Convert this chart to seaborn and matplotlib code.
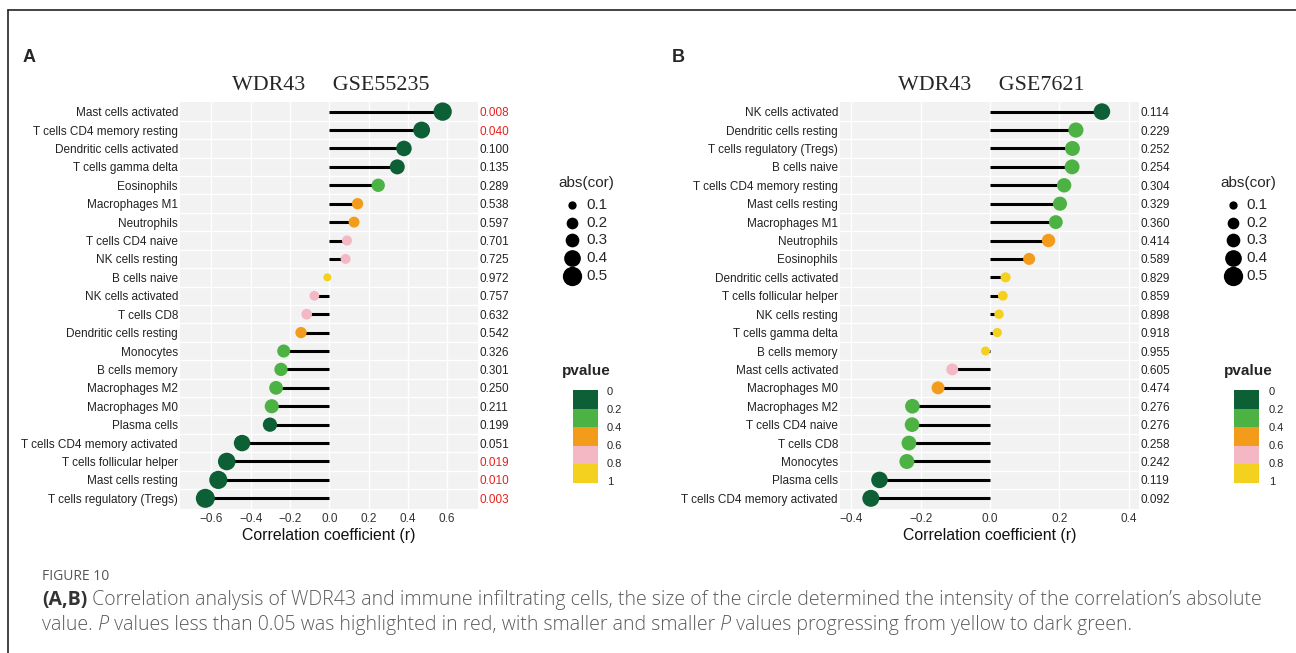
import numpy as np
import pandas as pd
import seaborn as sns
import matplotlib.pyplot as plt
from matplotlib.patches import Rectangle

W, H = 1296, 653

# panel A - GSE55235
cells_a = ['Mast cells activated', 'T cells CD4 memory resting', 'Dendritic cells activated',
           'T cells gamma delta', 'Eosinophils', 'Macrophages M1', 'Neutrophils',
           'T cells CD4 naive', 'NK cells resting', 'B cells naive', 'NK cells activated',
           'T cells CD8', 'Dendritic cells resting', 'Monocytes', 'B cells memory',
           'Macrophages M2', 'Macrophages M0', 'Plasma cells', 'T cells CD4 memory activated',
           'T cells follicular helper', 'Mast cells resting', 'T cells regulatory (Tregs)']
r_a = [0.577, 0.470, 0.380, 0.346, 0.249, 0.144, 0.126, 0.090, 0.083, -0.010, -0.076,
       -0.115, -0.144, -0.232, -0.246, -0.271, -0.293, -0.302, -0.444, -0.522, -0.565, -0.631]
p_a = [0.008, 0.040, 0.100, 0.135, 0.289, 0.538, 0.597, 0.701, 0.725, 0.972, 0.757,
       0.632, 0.542, 0.326, 0.301, 0.250, 0.211, 0.199, 0.051, 0.019, 0.010, 0.003]

# panel B - GSE7621
cells_b = ['NK cells activated', 'Dendritic cells resting', 'T cells regulatory (Tregs)',
           'B cells naive', 'T cells CD4 memory resting', 'Mast cells resting', 'Macrophages M1',
           'Neutrophils', 'Eosinophils', 'Dendritic cells activated', 'T cells follicular helper',
           'NK cells resting', 'T cells gamma delta', 'B cells memory', 'Mast cells activated',
           'Macrophages M0', 'Macrophages M2', 'T cells CD4 naive', 'T cells CD8', 'Monocytes',
           'Plasma cells', 'T cells CD4 memory activated']
r_b = [0.323, 0.248, 0.238, 0.237, 0.214, 0.202, 0.190, 0.169, 0.113, 0.045, 0.037,
       0.026, 0.021, -0.013, -0.109, -0.150, -0.224, -0.225, -0.234, -0.240, -0.319, -0.344]
p_b = [0.114, 0.229, 0.252, 0.254, 0.304, 0.329, 0.360, 0.414, 0.589, 0.829, 0.859,
       0.898, 0.918, 0.955, 0.605, 0.474, 0.276, 0.276, 0.258, 0.242, 0.119, 0.092]

xticks_a = [-0.6, -0.4, -0.2, 0.0, 0.2, 0.4, 0.6]
xticks_b = [-0.4, -0.2, 0.0, 0.2, 0.4]

p_edges = [0, 0.2, 0.4, 0.6, 0.8, 1]
p_colors = ['#0d5f35', '#4db244', '#f39c1b', '#f4b8c4', '#f4d01f']
size_breaks = [0.1, 0.2, 0.3, 0.4, 0.5]
size_key_px = [8.3, 11.7, 13.7, 16.7, 19.3]

sns.set_theme(style='white')
plt.rcParams['font.family'] = ['Liberation Sans', 'DejaVu Sans']

fig = plt.figure(figsize=(W / 100, H / 100), dpi=100)


def px_axes(x0, y0, x1, y1):
    return fig.add_axes([x0 / W, 1 - y1 / H, (x1 - x0) / W, (y1 - y0) / H])


def lollipop(ax, cells, r, p, xlim, xticks, sizes):
    df = pd.DataFrame({'cell': cells, 'r': r, 'p': p})
    df['row'] = np.arange(len(df))
    df['absr'] = df['r'].abs()
    df['bin'] = pd.cut(df['p'], p_edges, labels=[str(i) for i in range(5)], include_lowest=True).astype(str)
    pal = {str(i): c for i, c in enumerate(p_colors)}

    ax.set_facecolor('#f2f2f2')
    for x in xticks:
        ax.axvline(x, color='white', lw=1.0, zorder=0)
    for i in range(len(df) - 1):
        ax.axhline(i + 0.5, color='white', lw=1.0, zorder=0)
    ax.hlines(df['row'], 0, df['r'], color='black', lw=2.2, zorder=2)
    sns.scatterplot(data=df, x='r', y='row', hue='bin', palette=pal, size='absr',
                    sizes=sizes, size_norm=(0, 1), legend=False, linewidth=0, ax=ax, zorder=3)

    ax.set_xlim(*xlim)
    ax.set_ylim(len(df) - 0.42, -0.55)
    ax.set_xticks(xticks)
    ax.set_xticklabels([f'{t:.1f}'.replace('-', '\u2212') for t in xticks])
    ax.set_yticks(df['row'])
    ax.set_yticklabels(df['cell'])
    ax.tick_params(axis='y', length=0, pad=1.5, labelsize=8.5, labelcolor='#222222')
    ax.tick_params(axis='x', length=0, pad=3, labelsize=8.5, labelcolor='#333333')
    ax.set_ylabel('')
    ax.set_xlabel('Correlation coefficient (r)', fontsize=11.4, labelpad=2, color='#111111')
    for s in ax.spines.values():
        s.set_visible(False)

    ax2 = ax.twinx()
    ax2.set_ylim(ax.get_ylim())
    ax2.set_yticks(df['row'])
    ax2.set_yticklabels([f'{v:.3f}' for v in df['p']])
    ax2.tick_params(axis='y', length=0, pad=1, labelsize=8.5)
    for lab, v in zip(ax2.get_yticklabels(), df['p']):
        lab.set_color('#e8211d' if v < 0.05 else '#222222')
    for s in ax2.spines.values():
        s.set_visible(False)
    ax2.grid(False)


ax_a = px_axes(180, 101.5, 478, 509)
lollipop(ax_a, cells_a, r_a, p_a, (-0.76, 0.757), xticks_a, (30.6, 279))
ax_b = px_axes(840, 101.5, 1139.3, 509)
lollipop(ax_b, cells_b, r_b, p_b, (-0.433, 0.431), xticks_b, (37.8, 364))

# overlay in pixel coordinates for legends, titles, caption
lax = fig.add_axes([0, 0, 1, 1], zorder=-1)
lax.set_xlim(0, W)
lax.set_ylim(H, 0)
lax.axis('off')

lax.plot([8, W], [10, 10], color='#222222', lw=1.2, clip_on=False)
lax.plot([8, 8], [10, H], color='#222222', lw=1.2, clip_on=False)

lax.text(29, 57, 'A', fontsize=13, fontweight='bold', ha='center', va='center')
lax.text(678, 57, 'B', fontsize=13, fontweight='bold', ha='center', va='center')
lax.text(331, 85, 'WDR43     GSE55235', family='Liberation Serif', fontsize=15.8,
         ha='center', va='center')
lax.text(991, 85, 'WDR43     GSE7621', family='Liberation Serif', fontsize=15.8,
         ha='center', va='center')


def draw_legends(title_cx, dot_x, lab_x, bar_x, bar_lab_x):
    lax.text(title_cx, 183, 'abs(cor)', fontsize=11, ha='center', va='center')
    for i, (b, d) in enumerate(zip(size_breaks, size_key_px)):
        y = 205 + 17.7 * i
        lax.scatter([dot_x], [y], s=(d * 0.72) ** 2, color='black', lw=0)
        lax.text(lab_x, y, f'{b:.1f}', fontsize=11, ha='left', va='center')
    lax.text(title_cx, 371, 'pvalue', fontsize=11, fontweight='bold', ha='center', va='center')
    for i, c in enumerate(p_colors):
        lax.add_patch(Rectangle((bar_x, 390 + 18.5 * i), 25, 18.5, color=c, lw=0))
    for i, e in enumerate(p_edges):
        lax.text(bar_lab_x, 391.7 + 18 * i, f'{e:g}', fontsize=8, ha='left', va='center')


draw_legends(586, 572, 586, 573.3, 607)
draw_legends(1248, 1232.7, 1246.7, 1234, 1269)

# caption
cap_font = ['Open Sans', 'DejaVu Sans']
renderer = fig.canvas.get_renderer()
grey = '#5a5a5a'
line1 = [('(A,B)', 'bold', 'normal', '#333333'),
         (' Correlation analysis of WDR43 and immune infiltrating cells, the size of the circle '
          'determined the intensity of the correlation\u2019s absolute', 'light', 'normal', grey)]
line2 = [('value.', 'light', 'normal', grey),
         (' P', 'light', 'italic', grey),
         (' values less than 0.05 was highlighted in red, with smaller and smaller', 'light', 'normal', grey),
         (' P', 'light', 'italic', grey),
         (' values progressing from yellow to dark green.', 'light', 'normal', grey)]

tmp = lax.text(0, 0, ''.join(s for s, *_ in line1), fontsize=12, family=cap_font, fontweight='light')
w1 = tmp.get_window_extent(renderer).width
tmp.remove()
cap_size = 12 * 1214 / w1


def draw_runs(runs, x, y):
    for s, wt, st, col in runs:
        t = lax.text(x, y, s, fontsize=cap_size, fontweight=wt, fontstyle=st, color=col,
                     family=cap_font, ha='left', va='center')
        x += t.get_window_extent(renderer).width


lax.text(42, 577, 'FIGURE 10', fontsize=10, color='#555555', family=cap_font,
         ha='left', va='center')
draw_runs(line1, 42, 600)
draw_runs(line2, 42, 625)

fig.savefig('out.png', dpi=100)
